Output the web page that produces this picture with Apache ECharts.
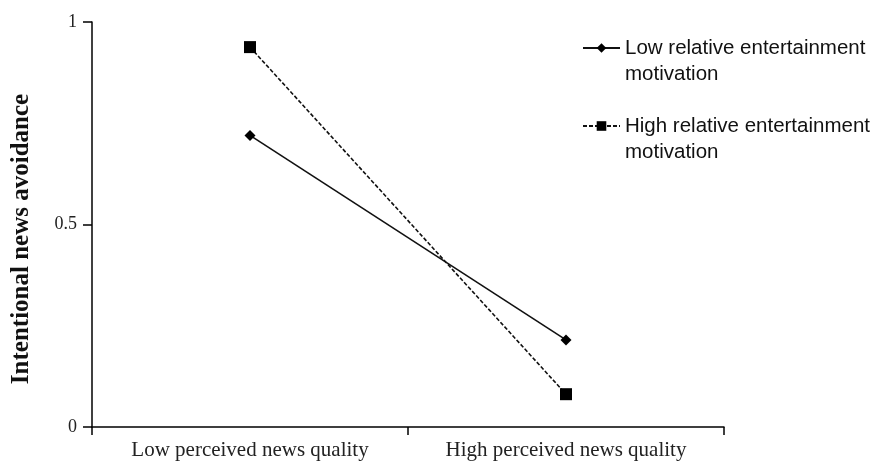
<!DOCTYPE html>
<html lang="en">
  <head>
    <meta charset="UTF-8" />
    <title>Intentional news avoidance</title>
    <script src="https://cdn.jsdelivr.net/npm/echarts@6/dist/echarts.min.js"></script>
  </head>

  <body style="margin: 0; background: #fff">
    <div id="main" style="width: 875px; height: 462px"></div>

    <script>
      var categories = ["Low perceived news quality", "High perceived news quality"];
      var lowEntertainment = [0.72, 0.215];
      var highEntertainment = [0.938, 0.081];
      var yTicks = [0, 0.5, 1];

      var serif = "'Liberation Serif', 'Times New Roman', serif";
      var sans = "'Liberation Sans', Arial, sans-serif";

      var myChart = echarts.init(document.getElementById("main"));

      var option = {
        backgroundColor: "#fff",
        animation: false,
        grid: { left: 92, right: 151, top: 22, bottom: 35, containLabel: false },
        legend: {
          orient: "vertical",
          left: 582,
          top: 9,
          padding: 0,
          itemWidth: 37,
          itemHeight: 12,
          itemGap: 0,
          textStyle: { fontFamily: sans, fontSize: 20.5, color: "#111", lineHeight: 26 },
          // empty first line keeps the icon level with the first text line
          formatter: function (name) {
            return "\n" + name.replace(" motivation", "\nmotivation");
          },
          data: ["Low relative entertainment motivation", "High relative entertainment motivation"],
        },
        xAxis: {
          type: "category",
          data: categories,
          boundaryGap: true,
          axisLine: { lineStyle: { color: "#000", width: 1.5 } },
          axisTick: { show: true, length: 8, lineStyle: { color: "#000", width: 1.5 } },
          axisLabel: { fontFamily: serif, fontSize: 21, color: "#222", margin: 13 },
          splitLine: { show: false },
        },
        yAxis: {
          type: "value",
          min: 0,
          max: 1,
          interval: 0.5,
          name: "Intentional news avoidance",
          nameLocation: "middle",
          nameRotate: 90,
          nameGap: 58,
          nameTextStyle: {
            fontFamily: serif,
            fontSize: 25,
            fontWeight: "bold",
            color: "#111",
            padding: [0, 29, 0, 0],
          },
          axisLine: { show: true, lineStyle: { color: "#000", width: 1.5 } },
          axisTick: { show: true, length: 9, lineStyle: { color: "#000", width: 1.5 } },
          axisLabel: {
            fontFamily: serif,
            fontSize: 18,
            color: "#222",
            margin: 15,
            formatter: function (v) {
              return yTicks.indexOf(v) >= 0 ? String(v) : "";
            },
          },
          splitLine: { show: false },
        },
        series: [
          {
            name: "Low relative entertainment motivation",
            type: "line",
            data: lowEntertainment,
            symbol: "diamond",
            symbolSize: 11,
            itemStyle: { color: "#000" },
            lineStyle: { color: "#111", width: 1.6, type: "solid" },
          },
          {
            name: "High relative entertainment motivation",
            type: "line",
            data: highEntertainment,
            symbol: "rect",
            symbolSize: 12,
            itemStyle: { color: "#000" },
            lineStyle: { color: "#111", width: 1.6, type: [4, 2] },
          },
        ],
      };
      myChart.setOption(option);
    </script>
  </body>
</html>
